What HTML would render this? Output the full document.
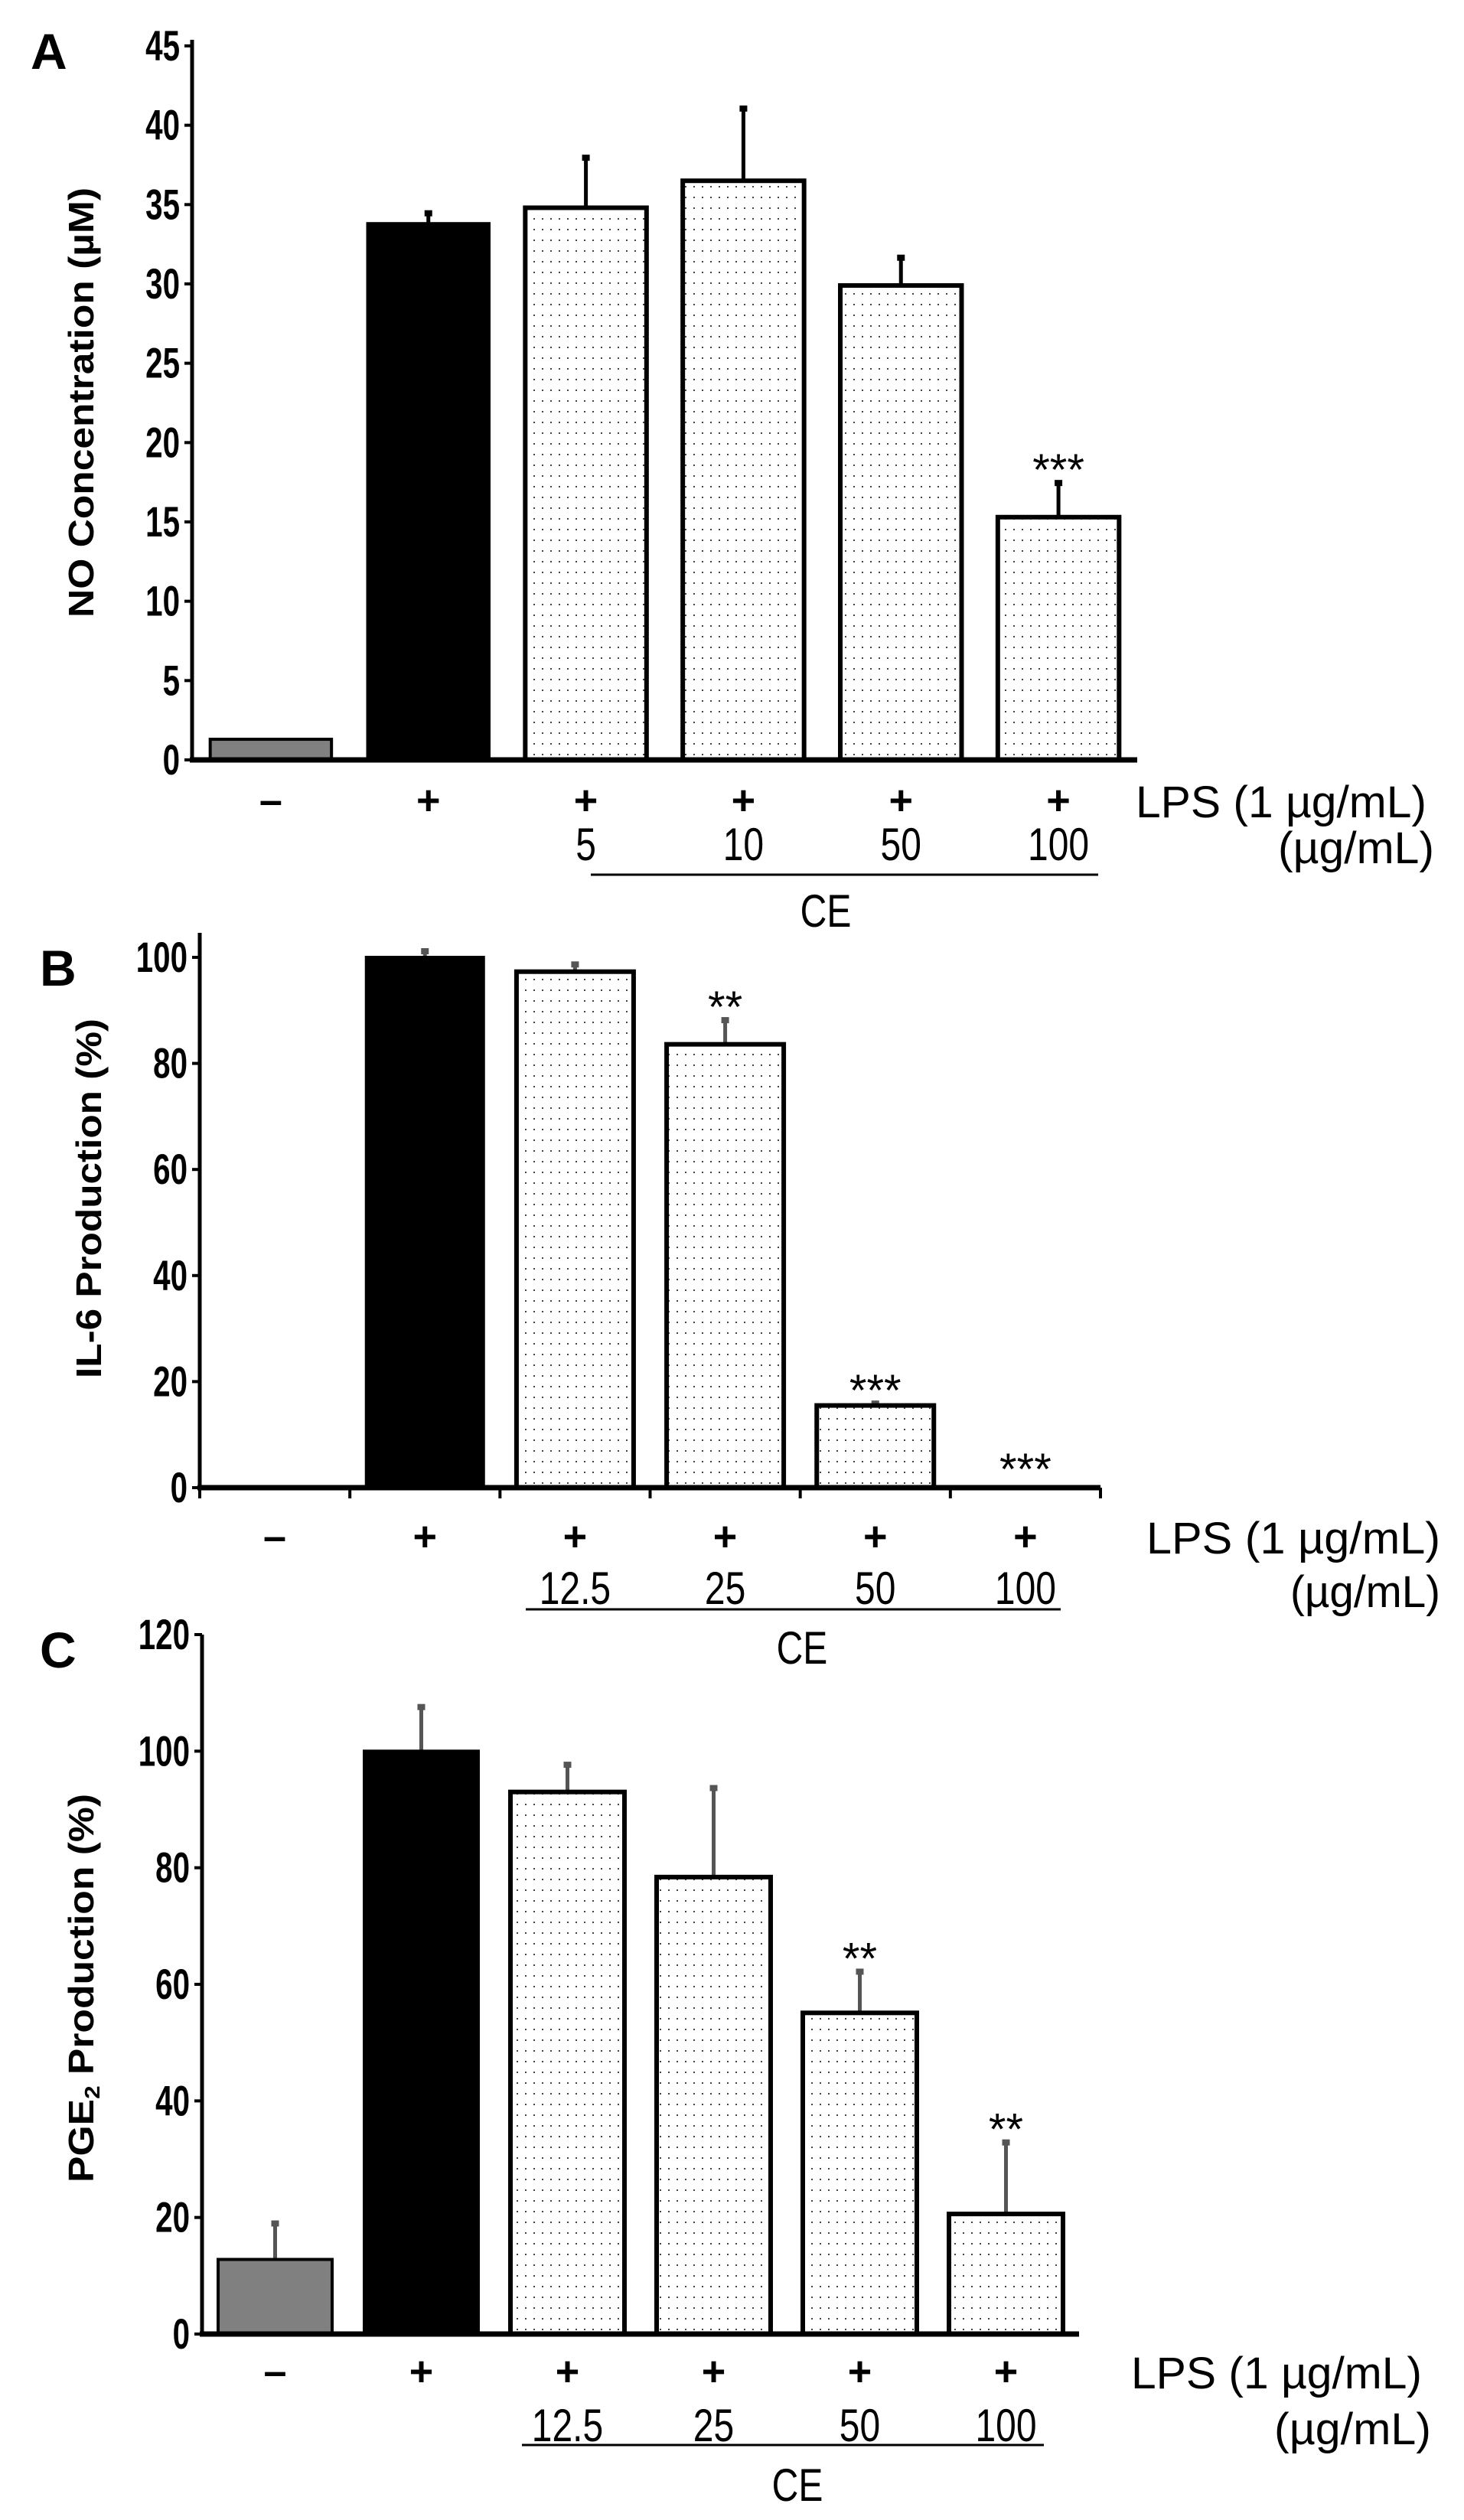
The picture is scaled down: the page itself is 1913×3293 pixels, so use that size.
<!DOCTYPE html>
<html><head><meta charset="utf-8"><style>
html,body{margin:0;padding:0;background:#fff;}
svg{display:block;}
text{font-family:"Liberation Sans",Arial,sans-serif;}
</style></head><body>
<svg id="fig" width="1913" height="3293" viewBox="0 0 1913 3293" xmlns="http://www.w3.org/2000/svg">
<defs>
<pattern id="dots" width="11" height="14" patternUnits="userSpaceOnUse">
<rect width="11" height="14" fill="#fff"/>
<rect x="4" y="5" width="2" height="2" fill="#444"/>
</pattern>
</defs>
</svg>
<script>
const NS="http://www.w3.org/2000/svg";
const svg=document.getElementById('fig');

// Panel A data
const aCategories=["ctrl","LPS","CE5","CE10","CE50","CE100"];
const aValues=[1.3,33.8,34.8,36.5,29.9,15.3];
const aErrors=[0,0.7,3.2,4.6,1.8,2.2];
const aStars=["","","","","","***"];
const aTicks=[0,5,10,15,20,25,30,35,40,45];
const aLps=["–","+","+","+","+","+"];
const aDoses=["","","5","10","50","100"];
// Panel B data
const bCategories=["ctrl","LPS","CE12.5","CE25","CE50","CE100"];
const bValues=[0,100,97.3,83.6,15.5,0];
const bErrors=[0,1.3,1.5,4.7,0.5,0];
const bStars=["","","","**","***","***"];
const bTicks=[0,20,40,60,80,100];
const bLps=["–","+","+","+","+","+"];
const bDoses=["","","12.5","25","50","100"];
// Panel C data
const cCategories=["ctrl","LPS","CE12.5","CE25","CE50","CE100"];
const cValues=[12.8,100,93,78.4,55.1,20.6];
const cErrors=[6.3,7.7,4.8,15.4,7.2,12.4];
const cStars=["","","","","**","**"];
const cTicks=[0,20,40,60,80,100,120];
const cLps=["–","+","+","+","+","+"];
const cDoses=["","","12.5","25","50","100"];

const fills=["#808080","#000","url(#dots)","url(#dots)","url(#dots)","url(#dots)"];

function el(tag,attrs,txt){
  const e=document.createElementNS(NS,tag);
  for(const k in attrs)e.setAttribute(k,attrs[k]);
  if(txt!==undefined)e.textContent=txt;
  svg.appendChild(e);return e;
}

function panel(p,values,errors,stars,ticks,lps,doses){
  const yMax=ticks[ticks.length-1];
  const y=v=>p.y0-(v/yMax)*(p.y0-p.yTop);
  const band=(p.xEnd-p.xAxis)/values.length;
  const bw=band*p.bf;
  const cx=i=>p.xAxis+band*(i+0.5);
  let t=el('text',{x:p.lx,y:p.ly,'font-size':66,'font-weight':'bold'},p.letter);
  
  
  t=el('text',{x:0,y:0,'font-size':46,'font-weight':'bold','text-anchor':'middle',transform:`translate(${p.tx},${p.ty}) rotate(-90)`,textLength:p.tl,lengthAdjust:'spacingAndGlyphs'});
  
  
  if(p.sub){t.appendChild(document.createTextNode('PGE'));const s=document.createElementNS(NS,'tspan');s.setAttribute('font-size','28');s.setAttribute('dy','8');s.textContent='2';t.appendChild(s);const s2=document.createElementNS(NS,'tspan');s2.setAttribute('dy','-8');s2.textContent=' Production (%)';t.appendChild(s2);}
  else t.textContent=p.title;
  values.forEach((v,i)=>{
    const x=cx(i)-bw/2;
    if(v>0){
      if(errors[i]>0){
        const l=el('line',{x1:cx(i),x2:cx(i),y1:y(v),y2:y(v+errors[i]),stroke:p.ec,'stroke-width':5});
        
        
        el('rect',{x:cx(i)-5,y:y(v+errors[i])-3,width:10,height:8,fill:p.ec});
      }
      const r=el('rect',{x:x,y:y(v),width:bw,height:p.y0-y(v),fill:fills[i],stroke:'#000','stroke-width':i<2?4:6});
      
      
    }
    if(stars[i]){
      const top=y(v+errors[i]);
      const s=el('text',{x:cx(i),y:top+4+(v===0?-8:0),'font-size':58,'text-anchor':'middle'},stars[i]);
      
      
    }
    const lp=el('text',{x:cx(i),y:p.rowLps,'font-size':54,'font-weight':'bold','text-anchor':'middle'},lps[i]);
    
    
    if(doses[i]){
      const d=el('text',{x:cx(i),y:p.rowDose,'font-size':60,'text-anchor':'middle',transform:`translate(${cx(i)*(1-0.8)},0) scale(0.8,1)`},doses[i]);
      
      
    }
  });
  let a=el('line',{x1:p.xAxis,x2:p.xAxis,y1:p.yAxTop,y2:p.y0+2,stroke:'#000','stroke-width':5});
  
  
  a=el('line',{x1:p.xAxis-3,x2:p.xEnd,y1:p.y0,y2:p.y0,stroke:'#000','stroke-width':7});
  
  
  if(p.xticks){for(let i=0;i<=values.length;i++){el('line',{x1:p.xAxis+band*i,x2:p.xAxis+band*i,y1:p.y0,y2:p.y0+14,stroke:'#000','stroke-width':4});}}
  ticks.forEach(v=>{
    el('line',{x1:p.xAxis-10,x2:p.xAxis,y1:y(v),y2:y(v),stroke:'#000','stroke-width':4});
    const tx=p.xAxis-16;
    const tk=el('text',{x:tx,y:y(v)+19,'font-size':56,'font-weight':'bold','text-anchor':'end',transform:`translate(${tx*(1-0.72)},0) scale(0.72,1)`},String(v));
    
    
  });
  t=el('text',{x:p.lpsX,y:p.rowLps+4,'font-size':58,textLength:p.lpsW,lengthAdjust:'spacingAndGlyphs'},'LPS (1 µg/mL)');
  
  
  t=el('text',{x:p.ugX,y:p.rowDose+4,'font-size':58,textLength:p.ugW,lengthAdjust:'spacingAndGlyphs'},'(µg/mL)');
  
  
  t=el('line',{x1:p.ulX1,x2:p.ulX2,y1:p.ulY,y2:p.ulY,stroke:'#000','stroke-width':3});
  
  
  t=el('text',{x:p.ceX,y:p.ceY+4,'font-size':60,'text-anchor':'middle',transform:`translate(${p.ceX*(1-0.8)},0) scale(0.8,1)`},'CE');
  
  
}

panel({letter:'A',lx:40,ly:90,tx:122,ty:526,tl:562,title:'NO Concentration (µM)',xAxis:251,xEnd:1486,bf:0.77,
  yTop:60,yAxTop:52,y0:993,ec:'#000',rowLps:1064,rowDose:1124,lpsX:1484,lpsW:380,ugX:1670,ugW:204,
  ulX1:772,ulX2:1435,ulY:1143,ceX:1079,ceY:1207,xticks:false},aValues,aErrors,aStars,aTicks,aLps,aDoses);
panel({letter:'B',lx:52,ly:1288,tx:132,ty:1566,tl:470,title:'IL-6 Production (%)',xAxis:261,xEnd:1438,bf:0.78,
  yTop:1251,yAxTop:1219,y0:1944,ec:'#555',rowLps:2026,rowDose:2096,lpsX:1498,lpsW:384,ugX:1686,ugW:196,
  ulX1:687,ulX2:1386,ulY:2103,ceX:1048,ceY:2170,xticks:true},bValues,bErrors,bStars,bTicks,bLps,bDoses);
panel({letter:'C',lx:52,ly:2179,tx:122,ty:2598,tl:508,sub:true,xAxis:264,xEnd:1410,bf:0.78,
  yTop:2136,yAxTop:2136,y0:3050,ec:'#555',rowLps:3117,rowDose:3190,lpsX:1478,lpsW:380,ugX:1665,ugW:205,
  ulX1:682,ulX2:1364,ulY:3195,ceX:1042,ceY:3264,xticks:false},cValues,cErrors,cStars,cTicks,cLps,cDoses);
</script>
</body></html>
